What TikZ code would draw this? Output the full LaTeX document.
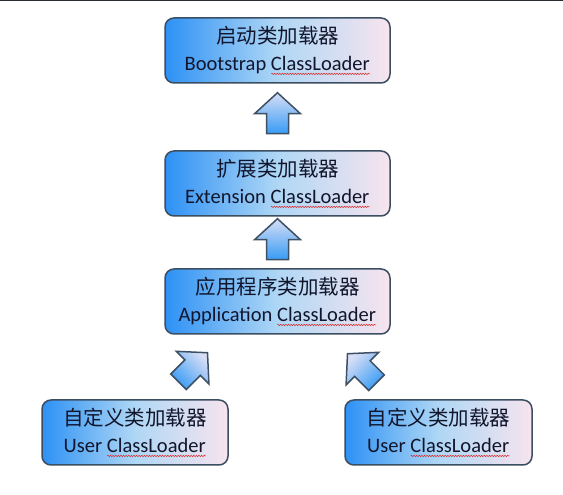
\documentclass[tikz,border=0pt]{standalone}
\usepackage{fontspec}
\setmainfont{Carlito}
\newfontfamily\cjk{Noto Sans CJK SC}
\usetikzlibrary{calc,decorations.pathmorphing}
\definecolor{boxleft}{RGB}{45,145,245}
\definecolor{boxmid}{RGB}{175,215,245}
\definecolor{boxright}{RGB}{248,228,238}
\definecolor{boxborder}{RGB}{60,78,98}
\definecolor{textcol}{RGB}{18,22,45}
\definecolor{wavered}{RGB}{220,40,40}
\definecolor{arrtop}{RGB}{215,222,245}
\definecolor{arrbot}{RGB}{55,155,245}
\definecolor{arrborder}{RGB}{62,80,100}
\definecolor{topline}{RGB}{40,45,50}
\newsavebox\wvbox
\newcommand\redwave[1]{\sbox\wvbox{#1}\edef\wvw{\the\wd\wvbox}\rlap{\usebox\wvbox}%
  \tikz[baseline=0pt, sharp corners]\draw[wavered, sharp corners, line width=0.5pt, decorate,
    decoration={snake, amplitude=0.7pt, segment length=2.6pt}] (0pt,-3.5pt) -- (\wvw,-3.5pt);}
\tikzset{
  loaderbox/.style={draw=boxborder, line width=1.5pt, rounded corners=9pt,
    left color=boxleft, right color=boxright, middle color=boxmid,
    minimum height=65pt, align=center, text=textcol,
    font=\fontsize{20.5}{27}\selectfont, inner sep=0pt},
  arrstyle/.style={draw=arrborder, line width=1.5pt, line join=miter,
    top color=arrtop, bottom color=arrbot},
  blockarr/.pic={\path[arrstyle, shading angle=#1] (0,0) -- (23,-21) -- (11,-21) -- (11,-41)
      -- (-11,-41) -- (-11,-21) -- (-23,-21) -- cycle;}
}
\begin{document}
\begin{tikzpicture}[x=1pt,y=1pt]
\useasboundingbox (0,0) rectangle (563,495);
\fill[white] (0,0) rectangle (563,495);
\fill[topline] (0,493.8) rectangle (563,495);
\node[loaderbox, minimum width=225pt] (boot) at (277.5,444.5)
  {{\cjk 启动类加载器}\\Bootstrap \redwave{ClassLoader}};
\node[loaderbox, minimum width=225pt] (ext) at (277.5,311.5)
  {{\cjk 扩展类加载器}\\Extension \redwave{ClassLoader}};
\node[loaderbox, minimum width=225pt] (app) at (277.5,193.5)
  {{\cjk 应用程序类加载器}\\Application \redwave{ClassLoader}};
\node[loaderbox, minimum width=186pt] (userl) at (135,62.5)
  {{\cjk 自定义类加载器}\\User \redwave{ClassLoader}};
\node[loaderbox, minimum width=187pt] (userr) at (438.5,62.5)
  {{\cjk 自定义类加载器}\\User \redwave{ClassLoader}};
\coordinate (tipa) at ($(boot.south)+(0,-9)$);
\coordinate (tipb) at ($(ext.south)+(0,-2)$);
\coordinate (tipc) at ($(app.south)+(-70,-18)$);
\coordinate (tipd) at ($(app.south)+(70,-19)$);
\pic at (tipa) {blockarr=0};
\pic at (tipb) {blockarr=0};
\pic[rotate=-45] at (tipc) {blockarr=-45};
\pic[rotate=45] at (tipd) {blockarr=45};
\end{tikzpicture}
\end{document}
